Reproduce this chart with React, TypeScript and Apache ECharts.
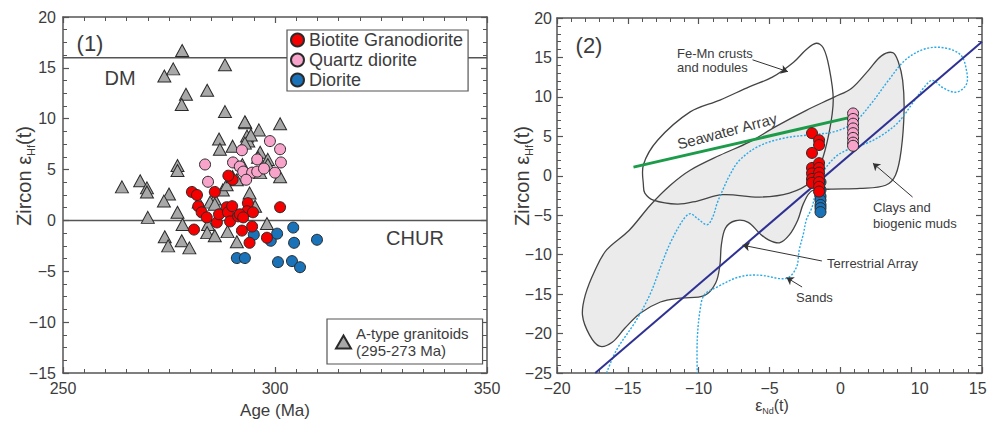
import React, { useEffect, useRef } from "react";
import * as echarts from "echarts";

// ---------- Panel (1): Age (Ma) vs Zircon εHf(t) ----------
const aTypeGranitoids: [number, number][] = [
  [278.1, 16.7], [288.2, 15.3], [273.9, 14.2], [276, 14.9], [279, 12.4], [284, 12.8],
  [278, 11.4], [288.2, 10.7], [293, 9.6], [286.8, 8.0], [287, 7.0], [290, 7.3],
  [293.4, 8.3], [293.7, 7.8], [277, 5.4], [277, 4.9], [263.9, 3.3], [268.2, 3.9],
  [269.8, 3.2], [269.8, 2.8], [275, 2.6], [273.8, 1.9], [287.7, 3.0], [288.6, 3.5],
  [290, 4.3], [292.3, 5.5], [285.8, 2.1], [284.7, 1.8], [282, 1.8], [292.9, 9.7],
  [296.2, 8.9], [294.3, 8.4], [301.2, 9.5], [292.9, 7.6], [296.5, 6.7], [296, 6.2],
  [298.3, 6.0], [298.3, 5.5], [301.2, 4.3], [296.5, 4.7], [291, 4.0], [294, 2.7],
  [270, 0.3], [274, -1.6], [274.8, -2.5], [277, 0.8], [278, -2.0], [278.2, -0.4],
  [279.8, -2.7], [284.2, -0.4], [284, -1.2], [285.8, -1.5], [285.8, 1.6], [288.8, -1.1],
  [291, -2.1], [298.1, -0.3], [295.3, 1.4],
];
const biotiteGranodiorite1: [number, number][] = [
  [290, 4.0], [289, 4.4], [293.6, 1.7], [301.2, 1.3], [280.4, 2.8], [281.6, 2.5],
  [285.8, 2.8], [280.9, -0.9], [281.9, 1.4], [282.7, 0.8], [283.9, 0.3], [286.3, -0.2],
  [286.8, 0.6], [288.6, 1.3], [288.9, 0.8], [289.4, -0.1], [289.9, 1.4], [291.3, 0.4],
  [292.2, -1.0], [294, -2.2], [293.4, 0.9], [294.8, 0.8], [291.7, 0.6], [292.5, 0.3],
  [298.1, -1.7], [294.6, -0.6],
];
const quartzDiorite1: [number, number][] = [
  [298.8, 7.8], [301.2, 7.0], [292.2, 6.9], [295.8, 6.0], [290.1, 5.7], [291.7, 5.3],
  [292.5, 4.8], [294.6, 4.7], [295.8, 4.8], [297.4, 5.1], [300, 4.7], [301.4, 5.7],
  [293.2, 4.0], [283.5, 5.5], [284.2, 3.8],
];
const diorite1: [number, number][] = [
  [291, -3.7], [292.9, -3.7], [295, -1.4], [299, -2.0], [300.5, -1.3], [300.7, -4.1],
  [304, -4.0], [304.3, -0.7], [304.5, -2.2], [305.9, -4.6], [309.9, -1.9],
];
const dmLine: [number, number][] = [[250, 16], [350, 16]];
const churLine: [number, number][] = [[250, 0], [350, 0]];

// ---------- Panel (2): εNd(t) vs Zircon εHf(t) ----------
const biotiteGranodiorite2: [number, number][] = [
  [-2.0, 5.4], [-1.5, 4.5], [-1.5, 3.9], [-2.0, 2.9], [-2.0, 1.0], [-1.5, 1.6],
  [-1.5, 1.0], [-2.0, 0.3], [-1.5, 0.4], [-2.0, -0.4], [-1.5, -0.2], [-2.0, -0.9],
  [-1.5, -0.8], [-1.5, -1.4], [-1.5, -2.0],
];
const diorite2: [number, number][] = [
  [-1.4, -0.8], [-1.4, -1.8], [-1.4, -2.6], [-1.4, -3.1], [-1.4, -3.7], [-1.4, -4.1], [-1.4, -4.6],
];
const quartzDiorite2: [number, number][] = [
  [0.9, 7.9], [0.9, 7.2], [0.9, 6.6], [0.9, 6.0], [0.9, 5.4], [0.9, 4.8], [0.9, 4.2], [0.9, 3.8],
];
const seawaterArray: [number, number][] = [[-14.6, 1.1], [0.7, 7.4]];
const terrestrialArray: [number, number][] = [[-17.3, -25], [10, 17]];
const clayField: [number, number][] = [
  [-17.0, -21.6], [-17.7, -20.2], [-18.2, -17.7], [-18.0, -15.1], [-17.3, -11.9], [-16.5, -9.4],
  [-14.9, -6.9], [-13.4, -3.7], [-12.0, -1.2], [-10.6, 0.7], [-8.5, 2.6], [-6.4, 4.3],
  [-4.6, 6.2], [-2.4, 8.3], [-0.4, 10.0], [0.8, 11.1], [2.0, 13.4], [2.9, 15.2],
  [3.7, 15.6], [4.1, 14.4], [4.4, 12.1], [4.5, 8.3], [4.3, 3.3], [3.9, 0.1],
  [3.2, -1.2], [1.4, -1.6], [-0.7, -1.7], [-2.0, -1.9], [-2.6, -3.5], [-3.0, -5.6],
  [-3.6, -7.5], [-4.3, -8.5], [-5.1, -8.1], [-5.7, -7.3], [-6.5, -5.9], [-7.4, -5.7],
  [-8.1, -6.6], [-8.4, -8.8], [-8.5, -11.3], [-8.8, -13.6], [-9.6, -15.2], [-11.3, -15.5],
  [-12.7, -16.0], [-14.1, -17.4], [-15.2, -19.3], [-16.1, -21.1],
];
const feMnField: [number, number][] = [
  [-13.9, -1.2], [-13.9, 1.4], [-12.9, 4.5], [-10.6, 8.1], [-8.5, 9.6], [-6.4, 11.3],
  [-4.8, 12.5], [-3.3, 14.4], [-2.4, 16.0], [-1.7, 16.8], [-1.2, 16.2], [-0.8, 13.8],
  [-0.5, 9.6], [-0.8, 5.4], [-1.4, 1.4], [-2.1, -0.8], [-3.6, -2.2], [-5.7, -2.7],
  [-8.3, -2.4], [-10.1, -3.2], [-11.5, -3.6], [-13.2, -3.1], [-13.8, -2.2],
];
const sandsField: [number, number][] = [
  [-16.5, -25.0], [-15.8, -22.1], [-14.4, -18.3], [-13.4, -14.9], [-12.7, -11.6], [-12.0, -8.5],
  [-11.1, -5.6], [-10.6, -4.8], [-10.1, -5.4], [-9.4, -6.2], [-9.0, -5.2], [-8.7, -3.5],
  [-8.3, -1.8], [-7.8, 0.1], [-7.1, 2.0], [-5.7, 3.8], [-3.9, 4.8], [-2.1, 5.2],
  [-0.4, 5.6], [1.0, 6.8], [2.2, 9.2], [3.4, 12.1], [4.6, 14.7], [6.0, 16.1],
  [7.4, 16.2], [8.5, 15.3], [8.9, 13.4], [8.9, 11.6], [8.2, 10.6], [7.3, 11.1],
  [6.5, 12.1], [6.0, 11.4], [5.1, 9.2], [4.1, 6.8], [2.9, 5.1], [1.7, 4.0],
  [0.5, 3.3], [-0.4, 2.3], [-1.2, 0.5], [-1.7, -1.8], [-2.0, -4.0], [-2.4, -5.6],
  [-2.6, -7.3], [-2.9, -9.4], [-3.1, -11.6], [-3.8, -13.0], [-5.7, -12.6], [-7.1, -12.8],
  [-8.7, -14.1], [-9.6, -15.1], [-9.9, -17.0], [-10.1, -20.8], [-10.1, -25.0],
];
const annotationArrows: [number, number][][] = [
  [[-6.2, 14.7], [-3.7, 13.2]],
  [[5.1, -2.7], [2.3, 1.6]],
  [[-1.3, -10.8], [-6.9, -8.8]],
  [[-2.7, -14.1], [-3.8, -12.9]],
];
const xTickValues2 = [-20, -15, -10, -5, 0, 5.6, 9.7];
const xTickLabels2 = ["\u221220", "\u221215", "\u221210", "\u22125", "0", "10", "15"];

const NAME_BG = "Biotite Granodiorite";
const NAME_QD = "Quartz diorite";
const NAME_DI = "Diorite";
const NAME_AT = "A-type granitoids\n(295-273 Ma)";

const FONT = '"Liberation Sans", Arial, Helvetica, sans-serif';
const AX = "#555";
const TXT = "#3c3c3c";
const RED = "#f40000";
const PINK = "#f7a3ca";
const BLUE = "#1a72b8";
const GRAYTRI = "#a8a8a8";

const minus = (v: number) => (v < 0 ? "\u2212" + Math.abs(v) : String(v));

function mkAxis(gridIndex: number, position: string, min: number, max: number, interval: number,
  minorSplit: number, showLabel: boolean, extraLabel: any = {}, extra: any = {}) {
  return {
    type: "value", gridIndex, position, min, max, interval,
    axisLine: { show: true, onZero: false, lineStyle: { color: AX, width: 1.5 } },
    axisTick: { show: true, inside: true, length: 6, lineStyle: { color: AX, width: 1.2 } },
    minorTick: { show: true, splitNumber: minorSplit, length: 4, lineStyle: { color: AX, width: 1 } },
    splitLine: { show: false },
    minorSplitLine: { show: false },
    axisLabel: {
      show: showLabel, color: TXT, fontSize: 16, fontFamily: FONT, margin: 7,
      showMinLabel: true, showMaxLabel: true, formatter: minus, ...extraLabel,
    },
    ...extra,
  };
}

function scatter(name: string, data: [number, number][], color: string, axis: number, symbol = "circle", size: any = 11, z = 5) {
  return {
    type: "scatter", name, data, xAxisIndex: axis, yAxisIndex: axis, symbol, symbolSize: size, z,
    itemStyle: { color, borderColor: "#2a2a2a", borderWidth: 1, opacity: 1 },
    silent: true,
  };
}

function refLine(name: string, data: [number, number][], color: string, width: number, axis: number, z = 3) {
  return {
    type: "line", name, data, xAxisIndex: axis, yAxisIndex: axis, symbol: "none", z, silent: true,
    lineStyle: { color, width }, animation: false,
  };
}

function field(name: string, points: [number, number][], closed: boolean, style: any, z: number) {
  return {
    type: "custom", name, xAxisIndex: 2, yAxisIndex: 2, data: points, z, silent: true, clip: true,
    renderItem: (params: any, api: any) => {
      if (params.dataIndex !== 0) return null;
      const pts = points.map((p) => api.coord(p));
      return { type: closed ? "polygon" : "polyline", shape: { points: pts, smooth: 0.35 }, style };
    },
  };
}

function txt(text: string, x: number, y: number, size: number, extra: any = {}) {
  return {
    type: "text", x, y, z: 100,
    style: { text, fontSize: size, fontFamily: FONT, fill: TXT, align: "center", verticalAlign: "middle", ...extra },
  };
}

function hfName(x: number, y: number) {
  return {
    type: "text", x, y, rotation: Math.PI / 2, z: 100,
    style: {
      text: "{a|Zircon \u03b5}{s|Hf}{a|(t)}", align: "center", verticalAlign: "middle",
      rich: {
        a: { fontSize: 20, fontFamily: FONT, fill: TXT, lineHeight: 24 },
        s: { fontSize: 11, fontFamily: FONT, fill: TXT, lineHeight: 14, verticalAlign: "bottom" },
      },
    },
  };
}

function buildOption() {
  return {
    animation: false,
    backgroundColor: "#fff",
    grid: [
      { left: 63, top: 17, width: 424, height: 356 },
      { left: 557, top: 18, width: 425, height: 355 },
    ],
    xAxis: [
      mkAxis(0, "bottom", 250, 350, 50, 10, true),
      mkAxis(0, "top", 250, 350, 50, 10, false),
      mkAxis(1, "bottom", -20, 10, 5, 5, true, {
        customValues: xTickValues2,
        formatter: (v: number) => {
          let best = 0;
          xTickValues2.forEach((t, i) => { if (Math.abs(t - v) < Math.abs(xTickValues2[best] - v)) best = i; });
          return xTickLabels2[best];
        },
      }, { axisTick: { show: true, inside: true, length: 6, customValues: [-20, -15, -10, -5, 0, 5, 10], lineStyle: { color: AX, width: 1.2 } } }),
      mkAxis(1, "top", -20, 10, 5, 5, false),
    ],
    yAxis: [
      mkAxis(0, "left", -15, 20, 5, 4, true),
      mkAxis(0, "right", -15, 20, 5, 4, false),
      mkAxis(1, "left", -25, 20, 5, 5, true, { margin: 5 }),
      mkAxis(1, "right", -25, 20, 5, 5, false),
    ],
    legend: [
      {
        data: [NAME_BG, NAME_QD, NAME_DI], orient: "vertical", left: 287, top: 30,
        padding: [1, 5, 2, 3], itemGap: 2, itemWidth: 13, itemHeight: 13,
        textStyle: { fontSize: 18, color: TXT, fontFamily: FONT },
        borderColor: AX, borderWidth: 1.2, backgroundColor: "#fff", selectedMode: false, z: 10,
      },
      {
        data: [NAME_AT], orient: "vertical", left: 327, top: 319,
        padding: [6, 14, 5, 8], itemWidth: 15, itemHeight: 13, itemGap: 10,
        textStyle: { fontSize: 15, lineHeight: 17, color: TXT, fontFamily: FONT },
        borderColor: AX, borderWidth: 1.2, backgroundColor: "#fff", selectedMode: false, z: 10,
      },
    ],
    series: [
      refLine("DM", dmLine, "#555", 1.5, 0, 1),
      refLine("CHUR", churLine, "#555", 1.5, 0, 1),
      scatter(NAME_AT, aTypeGranitoids, GRAYTRI, 0, "triangle", [13, 12], 3),
      scatter(NAME_QD, quartzDiorite1, PINK, 0),
      scatter(NAME_DI, diorite1, BLUE, 0),
      scatter(NAME_BG, biotiteGranodiorite1, RED, 0),

      field("Clays and biogenic muds", clayField, true, { fill: "#ebebeb", stroke: "#444", lineWidth: 1.3 }, 1),
      field("Fe-Mn crusts and nodules", feMnField, true, { fill: "none", stroke: "#444", lineWidth: 1.3 }, 2),
      field("Sands", sandsField, false, { fill: "none", stroke: "#2aa9e6", lineWidth: 1.4, lineDash: [2, 1.6] }, 3),
      refLine("Terrestrial Array", terrestrialArray, "#2e3192", 2, 2, 4),
      refLine("Seawater Array", seawaterArray, "#1c9c4a", 3, 2, 4),
      {
        type: "lines", coordinateSystem: "cartesian2d", xAxisIndex: 2, yAxisIndex: 2, z: 6, silent: true,
        symbol: ["none", "arrow"], symbolSize: 7,
        lineStyle: { color: "#333", width: 1, opacity: 1 },
        data: annotationArrows.map((c) => ({ coords: c })),
      },
      scatter(NAME_QD, quartzDiorite2, PINK, 2, "circle", 11, 7),
      scatter(NAME_DI, diorite2, BLUE, 2, "circle", 11, 7),
      scatter(NAME_BG, biotiteGranodiorite2, RED, 2, "circle", 11, 8),
    ],
    graphic: [
      txt("(1)", 90, 43, 22),
      txt("DM", 120, 78, 20),
      txt("CHUR", 415, 238, 20),
      txt("Age (Ma)", 275, 410, 17),
      hfName(24, 176),
      txt("(2)", 589, 45, 22),
      hfName(522, 176),
      {
        type: "text", x: 772, y: 405, z: 100,
        style: {
          text: "{a|\u03b5}{s|Nd}{a|(t)}", align: "center", verticalAlign: "middle",
          rich: {
            a: { fontSize: 16, fontFamily: FONT, fill: TXT, lineHeight: 20 },
            s: { fontSize: 9, fontFamily: FONT, fill: TXT, lineHeight: 12, verticalAlign: "bottom" },
          },
        },
      },
      txt("Fe-Mn crusts\nand nodules", 677, 46, 13, { align: "left", verticalAlign: "top", lineHeight: 14 }),
      { ...txt("Seawater Array", 727, 131, 15), rotation: (15 * Math.PI) / 180 },
      txt("Clays and\nbiogenic muds", 873, 199, 13, { align: "left", verticalAlign: "top", lineHeight: 16 }),
      txt("Terrestrial Array", 827, 263, 13, { align: "left" }),
      txt("Sands", 796, 297, 13, { align: "left" }),
    ],
  };
}

export default function App() {
  const ref = useRef<HTMLDivElement>(null);
  useEffect(() => {
    document.body.style.margin = "0";
    const chart = echarts.init(ref.current as HTMLDivElement, null, { renderer: "svg" });
    chart.setOption(buildOption() as any);
    return () => chart.dispose();
  }, []);
  return <div ref={ref} style={{ width: 992, height: 421 }} />;
}
